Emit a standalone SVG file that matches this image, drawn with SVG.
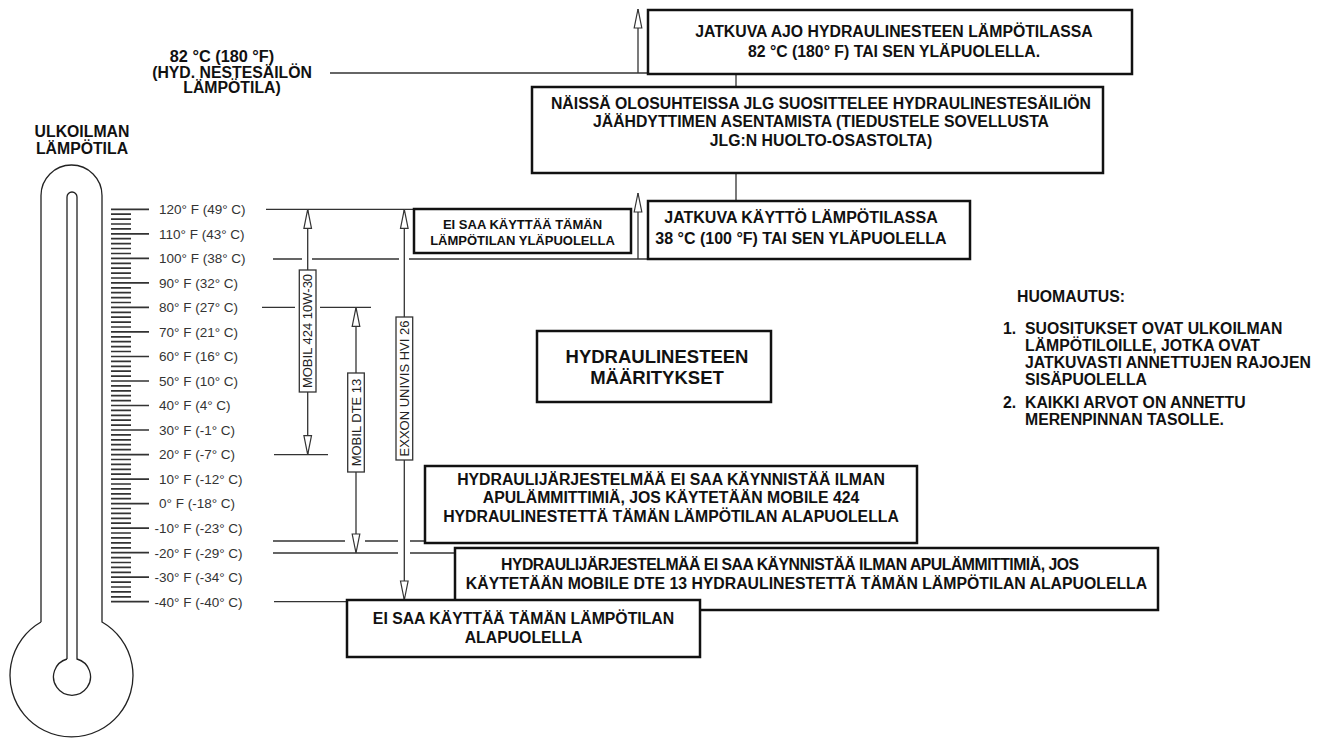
<svg xmlns="http://www.w3.org/2000/svg" width="1317" height="738" viewBox="0 0 1317 738">
<style>
.bx{fill:#fff;stroke:#111;stroke-width:2.5}
.lb{fill:#fff;stroke:#333;stroke-width:1.3}
.ln{fill:none;stroke:#333;stroke-width:1.3}
.tk{fill:none;stroke:#333;stroke-width:1.7}
.th{fill:none;stroke:#222;stroke-width:1.3}
.b{font-family:"Liberation Sans",Arial,sans-serif;font-weight:bold;font-size:15.8px;fill:#111}
.bc{text-anchor:middle}
.n{font-size:15.8px}
.s{font-family:"Liberation Sans",Arial,sans-serif;font-size:13.5px;fill:#333}
.r{font-family:"Liberation Sans",Arial,sans-serif;font-size:13px;fill:#222;text-anchor:middle}
</style>
<defs>
<marker id="ah" markerUnits="userSpaceOnUse" markerWidth="24" markerHeight="10" viewBox="-21 -5 22 10" refX="0" refY="0" orient="auto-start-reverse" overflow="visible">
<path d="M0,0 L-19,-3.8 L-19,3.8 Z" fill="#fff" stroke="#333" stroke-width="1.2"/>
</marker>
</defs>

<g id="thermometer">
<path class="th" d="M41 622 L41 195.5 A30.5 30.5 0 0 1 102 195.5 L102 622 A61.5 61.5 0 1 1 41 622"/>
<path class="th" d="M67 659 L67 197 A5 5 0 0 1 77 197 L77 659 A18.5 18.5 0 1 1 67 659"/>
<path class="tk" d="M111 209.3h38M111 233.8h38M111 258.4h38M111 282.9h38M111 307.4h38M111 331.9h38M111 356.5h38M111 381h38M111 405.5h38M111 430h38M111 454.6h38M111 479.1h38M111 503.6h38M111 528.1h38M111 552.7h38M111 577.2h38M111 601.7h38"/>
<path class="tk" d="M111 214.2h20M111 219.1h20M111 224h20M111 228.9h20M111 238.7h20M111 243.6h20M111 248.5h20M111 253.5h20M111 263.3h20M111 268.2h20M111 273.1h20M111 278h20M111 287.8h20M111 292.7h20M111 297.6h20M111 302.5h20M111 312.3h20M111 317.2h20M111 322.1h20M111 327h20M111 336.8h20M111 341.7h20M111 346.6h20M111 351.5h20M111 361.4h20M111 366.3h20M111 371.2h20M111 376.1h20M111 385.9h20M111 390.8h20M111 395.7h20M111 400.6h20M111 410.4h20M111 415.3h20M111 420.2h20M111 425.1h20M111 434.9h20M111 439.8h20M111 444.7h20M111 449.7h20M111 459.5h20M111 464.4h20M111 469.3h20M111 474.2h20M111 484h20M111 488.9h20M111 493.8h20M111 498.7h20M111 508.5h20M111 513.4h20M111 518.3h20M111 523.2h20M111 533h20M111 537.9h20M111 542.8h20M111 547.8h20M111 557.6h20M111 562.5h20M111 567.4h20M111 572.3h20M111 582.1h20M111 587h20M111 591.9h20M111 596.8h20"/>
<text class="s" x="159" y="214.1">120° F (49° C)</text>
<text class="s" x="159" y="238.6">110° F (43° C)</text>
<text class="s" x="159" y="263.2">100° F (38° C)</text>
<text class="s" x="159" y="287.7">90° F (32° C)</text>
<text class="s" x="159" y="312.2">80° F (27° C)</text>
<text class="s" x="159" y="336.7">70° F (21° C)</text>
<text class="s" x="159" y="361.3">60° F (16° C)</text>
<text class="s" x="159" y="385.8">50° F (10° C)</text>
<text class="s" x="159" y="410.3">40° F (4° C)</text>
<text class="s" x="159" y="434.8">30° F (-1° C)</text>
<text class="s" x="159" y="459.4">20° F (-7° C)</text>
<text class="s" x="159" y="483.9">10° F (-12° C)</text>
<text class="s" x="159" y="508.4">0° F (-18° C)</text>
<text class="s" x="154.5" y="532.9">-10° F (-23° C)</text>
<text class="s" x="154.5" y="557.5">-20° F (-29° C)</text>
<text class="s" x="154.5" y="582">-30° F (-34° C)</text>
<text class="s" x="154.5" y="606.5">-40° F (-40° C)</text>
</g>

<g id="title-ambient">
<text class="b bc" x="82" y="137">ULKOILMAN</text>
<text class="b bc" x="82" y="154">LÄMPÖTILA</text>
</g>

<g id="title-tank">
<text class="b bc" x="222" y="62" style="font-size:16.3px">82 °C (180 °F)</text>
<text class="b bc" x="232" y="78">(HYD. NESTESÄILÖN</text>
<text class="b bc" x="232" y="93">LÄMPÖTILA)</text>
</g>

<g id="connectors">
<path class="ln" d="M330 73H648"/>
<path class="ln" d="M638 73V9" marker-end="url(#ah)"/>
<path class="ln" d="M736 74V87M736 173V201"/>
<path class="ln" d="M638 259V193" marker-end="url(#ah)"/>
<path class="ln" d="M266 209.3H413"/>
<path class="ln" d="M273 259H302M312 259H399M409 259H648"/>
<path class="ln" d="M262 307.4H295M320 307.4H371"/>
<path class="ln" d="M274 454.6H328"/>
<path class="ln" d="M273 541H345M365 541H398M410 541H425"/>
<path class="ln" d="M273 553H398M410 553H455"/>
<path class="ln" d="M274 601.7H347"/>
<path class="ln" d="M307.7 209.3V454.6" marker-start="url(#ah)" marker-end="url(#ah)"/>
<path class="ln" d="M356 307.4V553" marker-start="url(#ah)" marker-end="url(#ah)"/>
<path class="ln" d="M404.3 209.3V600" marker-start="url(#ah)" marker-end="url(#ah)"/>
</g>

<g id="label-mobil424">
<rect class="lb" x="299.3" y="270" width="16.7" height="122"/>
<text class="r" transform="translate(312.4 331) rotate(-90)">MOBIL 424 10W-30</text>
</g>
<g id="label-dte13">
<rect class="lb" x="347.7" y="373" width="16.6" height="99"/>
<text class="r" transform="translate(360.7 422.5) rotate(-90)">MOBIL DTE 13</text>
</g>
<g id="label-exxon">
<rect class="lb" x="396" y="317" width="16.7" height="143"/>
<text class="r" transform="translate(409 388.5) rotate(-90)">EXXON UNIVIS HVI 26</text>
</g>

<g id="box-82">
<rect class="bx" x="648" y="10" width="484" height="64"/>
<text class="b bc" x="894" y="37">JATKUVA AJO HYDRAULINESTEEN LÄMPÖTILASSA</text>
<text class="b bc" x="894" y="57">82 °C (180° F) TAI SEN YLÄPUOLELLA.</text>
</g>

<g id="box-cooler">
<rect class="bx" x="532" y="87" width="571" height="86"/>
<text class="b bc" x="821" y="108.5">NÄISSÄ OLOSUHTEISSA JLG SUOSITTELEE HYDRAULINESTESÄILIÖN</text>
<text class="b bc" x="821" y="127">JÄÄHDYTTIMEN ASENTAMISTA (TIEDUSTELE SOVELLUSTA</text>
<text class="b bc" x="821" y="145.5">JLG:N HUOLTO-OSASTOLTA)</text>
</g>

<g id="box-38">
<rect class="bx" x="648" y="201" width="322" height="58"/>
<text class="b bc" x="801" y="222.5" style="font-size:16px">JATKUVA KÄYTTÖ LÄMPÖTILASSA</text>
<text class="b bc" x="801" y="244" style="font-size:16px">38 °C (100 °F) TAI SEN YLÄPUOLELLA</text>
</g>

<g id="box-above">
<rect class="bx" x="414" y="209" width="217" height="44"/>
<text class="b bc" x="522.5" y="229" style="font-size:13px">EI SAA KÄYTTÄÄ TÄMÄN</text>
<text class="b bc" x="522.5" y="245" style="font-size:13px">LÄMPÖTILAN YLÄPUOLELLA</text>
</g>

<g id="box-spec">
<rect class="bx" x="537" y="331" width="234" height="71"/>
<text class="b bc" x="657" y="363" style="font-size:18.5px">HYDRAULINESTEEN</text>
<text class="b bc" x="657" y="384" style="font-size:18.5px">MÄÄRITYKSET</text>
</g>

<g id="box-mobile424">
<rect class="bx" x="425" y="466" width="492" height="77"/>
<text class="b bc" x="671" y="484.5">HYDRAULIJÄRJESTELMÄÄ EI SAA KÄYNNISTÄÄ ILMAN</text>
<text class="b bc" x="671" y="503">APULÄMMITTIMIÄ, JOS KÄYTETÄÄN MOBILE 424</text>
<text class="b bc" x="671" y="521.5">HYDRAULINESTETTÄ TÄMÄN LÄMPÖTILAN ALAPUOLELLA</text>
</g>

<g id="box-dte13">
<rect class="bx" x="455" y="548" width="703" height="62"/>
<text class="b bc" x="790" y="570" textLength="578" lengthAdjust="spacing">HYDRAULIJÄRJESTELMÄÄ EI SAA KÄYNNISTÄÄ ILMAN APULÄMMITTIMIÄ, JOS</text>
<text class="b bc" x="806.5" y="588.5">KÄYTETÄÄN MOBILE DTE 13 HYDRAULINESTETTÄ TÄMÄN LÄMPÖTILAN ALAPUOLELLA</text>
</g>

<g id="box-below">
<rect class="bx" x="347" y="600" width="353" height="57"/>
<text class="b bc" x="523.5" y="624">EI SAA KÄYTTÄÄ TÄMÄN LÄMPÖTILAN</text>
<text class="b bc" x="523.5" y="642.5">ALAPUOLELLA</text>
</g>

<g id="notes">
<text class="b n" x="1017" y="302">HUOMAUTUS:</text>
<text class="b n" x="1003" y="334">1.</text>
<text class="b n" x="1025" y="334">SUOSITUKSET OVAT ULKOILMAN</text>
<text class="b n" x="1025" y="351">LÄMPÖTILOILLE, JOTKA OVAT</text>
<text class="b n" x="1025" y="368">JATKUVASTI ANNETTUJEN RAJOJEN</text>
<text class="b n" x="1025" y="385">SISÄPUOLELLA</text>
<text class="b n" x="1003" y="408">2.</text>
<text class="b n" x="1025" y="408">KAIKKI ARVOT ON ANNETTU</text>
<text class="b n" x="1025" y="425">MERENPINNAN TASOLLE.</text>
</g>
</svg>
